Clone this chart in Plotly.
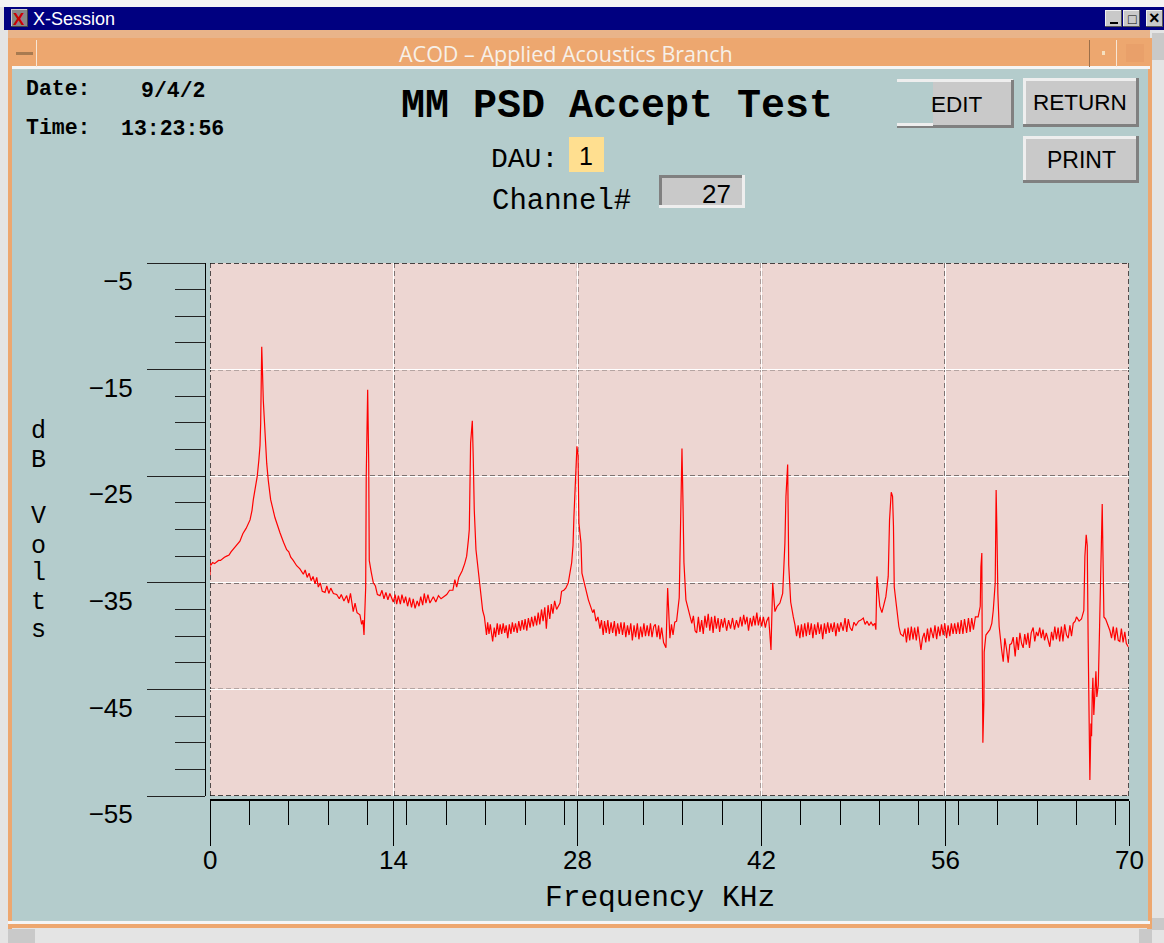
import plotly.graph_objects as go

# ---------- data: (frequency kHz, level dB) ----------
trace_0_12 = [(0,-34.3),(0,-33.2),(0.1,-33.3),(0.2,-33.1),(0.35,-33.2),(0.5,-33.0),(0.65,-32.9),(0.8,-32.9),(0.95,-32.7),(1.1,-32.6),(1.27,-32.5),(1.45,-32.4),(1.6,-32.1),(1.8,-31.8),(2.0,-31.5),(2.28,-31.1),(2.5,-30.4),(2.75,-29.9),(3.05,-29.1),(3.2,-28.2),(3.3,-27.2),(3.45,-26.2),(3.6,-25.0),(3.72,-23.5),(3.81,-22.1),(3.86,-20),(3.94,-12.85),(3.98,-14.4),(4.06,-17.9),(4.19,-21),(4.32,-23.8),(4.44,-25.4),(4.62,-27.2),(4.95,-28.9),(5.15,-29.7),(5.33,-30.3),(5.6,-31.2),(5.84,-31.9),(6.0,-32.1),(6.15,-32.6),(6.34,-32.9),(6.6,-33.4),(6.85,-33.7),(7.11,-34.2),(7.25,-33.8),(7.4,-34.5),(7.55,-34.1),(7.7,-34.8),(7.85,-34.4),(8.0,-35.1),(8.13,-34.5),(8.25,-35.4),(8.4,-35.0),(8.55,-35.8),(8.76,-35.9),(8.9,-35.3),(9.05,-36.0),(9.2,-35.5),(9.4,-36.0),(9.65,-36.1),(9.85,-36.5),(10.0,-36.1),(10.2,-36.7),(10.41,-36.2),(10.55,-36.9),(10.7,-36.0),(10.91,-37.7),(11.05,-36.9),(11.2,-37.8),(11.42,-38),(11.55,-38.9),(11.65,-38.5),(11.73,-39.9),(11.86,-35.4),(11.9,-25),(12.01,-16.9),(12.09,-23.8),(12.13,-32.9)]
trace_12_22 = [(12.28,-34.0),(12.44,-35),(12.6,-35.3),(12.75,-36.1),(12.95,-36.2),(13.1,-35.7),(13.25,-36.5),(13.4,-35.9),(13.55,-36.6),(13.7,-36.0),(13.96,-36.8),(14.1,-36.1),(14.22,-37.0),(14.35,-36.2),(14.5,-37.0),(14.62,-36.1),(14.78,-36.9),(14.9,-36.3),(15.05,-37.2),(15.2,-36.4),(15.35,-37.3),(15.48,-36.5),(15.62,-37.4),(15.78,-36.7),(15.92,-37.2),(16.05,-36.3),(16.2,-37.1),(16.32,-36.0),(16.45,-36.9),(16.6,-36.1),(16.75,-36.9),(17.01,-36.3),(17.2,-36.8),(17.4,-36.2),(17.6,-36.5),(18.03,-36.1),(18.25,-35.7),(18.5,-35.7),(18.65,-34.7),(18.79,-35.4),(18.95,-34.5),(19.2,-33.9),(19.4,-33.2),(19.55,-32.5),(19.68,-31.0),(19.75,-30),(19.85,-21.9),(19.98,-19.8),(20.05,-23.2),(20.13,-28.2),(20.26,-31.9),(20.51,-35),(20.65,-36.5),(20.77,-37.6),(20.9,-38.2),(21.06,-39.9),(21.15,-38.7),(21.25,-39.8),(21.35,-38.9),(21.53,-40.5),(21.65,-39.2),(21.75,-40.1),(21.88,-38.8)]
trace_22_28 = [(22.0,-39.9),(22.1,-38.9),(22.22,-39.8),(22.33,-38.8),(22.45,-39.7),(22.56,-39.0),(22.68,-40.2),(22.8,-38.9),(22.92,-39.8),(23.03,-38.7),(23.15,-39.6),(23.27,-38.8),(23.4,-39.7),(23.52,-38.6),(23.65,-39.5),(23.77,-38.5),(23.9,-39.4),(24.0,-38.4),(24.13,-39.5),(24.25,-38.3),(24.38,-39.2),(24.5,-38.2),(24.63,-39.1),(24.75,-38.1),(24.88,-39.0),(25.0,-37.8),(25.12,-38.9),(25.25,-37.5),(25.37,-38.6),(25.5,-37.3),(25.62,-39.3),(25.75,-37.1),(25.88,-38.4),(26.0,-37.0),(26.12,-37.9),(26.25,-36.7),(26.4,-37.5),(26.66,-36.9),(26.78,-35.8),(26.95,-35.7),(27.1,-35.5),(27.29,-35),(27.45,-34.0),(27.55,-33.1),(27.65,-31.5),(27.72,-28.8),(27.95,-22.2),(28.03,-23),(28.1,-29.4),(28.26,-31.3),(28.33,-34.1),(28.59,-35.4),(28.82,-36.6),(29.15,-37.8),(29.25,-37.5),(29.4,-38.6),(29.55,-38.2),(29.7,-39.3)]
trace_30_37 = [(29.82,-38.5),(29.95,-39.9),(30.05,-38.6),(30.18,-39.7),(30.3,-38.5),(30.42,-39.8),(30.55,-38.7),(30.67,-39.7),(30.8,-38.6),(30.92,-40.0),(31.05,-38.8),(31.17,-39.8),(31.3,-38.7),(31.42,-39.9),(31.55,-38.7),(31.67,-40.1),(31.8,-39.0),(31.92,-39.9),(32.05,-38.8),(32.17,-40.4),(32.3,-39.0),(32.42,-40.1),(32.55,-38.8),(32.67,-40.3),(32.8,-39.1),(32.92,-40.1),(33.05,-38.8),(33.17,-40.0),(33.3,-39.0),(33.42,-40.0),(33.55,-38.8),(33.67,-40.1),(33.8,-39.1),(33.92,-38.9),(34.05,-40.1),(34.17,-39.0),(34.27,-40.3),(34.4,-39.2),(34.55,-40.6),(34.73,-41.1),(34.86,-35.5),(34.93,-37.4),(35.03,-40.2),(35.15,-38.9),(35.27,-39.9),(35.4,-38.7),(35.54,-38.6),(35.74,-36.4),(35.85,-27.9),(35.95,-22.4),(36.02,-27),(36.1,-33.1),(36.25,-36.6),(36.4,-37.4),(36.56,-38.2),(36.7,-38.8),(36.82,-38.1),(36.95,-39.5),(37.07,-39.7)]
trace_37_45 = [(37.2,-38.2),(37.32,-39.6),(37.45,-38.5),(37.57,-39.8),(37.7,-38.1),(37.82,-39.2),(37.95,-37.9),(38.07,-39.5),(38.2,-38.2),(38.32,-39.7),(38.45,-38.1),(38.57,-39.3),(38.7,-38.3),(38.82,-39.6),(38.95,-38.4),(39.07,-39.2),(39.2,-38.3),(39.35,-39.5),(39.5,-38.5),(39.65,-39.3),(39.8,-38.3),(39.95,-39.4),(40.1,-38.5),(40.25,-39.2),(40.4,-38.2),(40.52,-39.1),(40.65,-38.0),(40.77,-38.9),(40.9,-38.2),(41.02,-39.5),(41.15,-38.3),(41.27,-39.1),(41.4,-38.1),(41.52,-39.0),(41.65,-37.8),(41.77,-39.0),(41.9,-38.2),(42.02,-39.1),(42.15,-38.2),(42.3,-39.2),(42.4,-38.6),(42.55,-38.2),(42.73,-41.3),(42.86,-35),(43.03,-37.7),(43.2,-37.2),(43.41,-36.9),(43.62,-36),(43.79,-31.3),(43.87,-26.9),(44.0,-23.9),(44.08,-33.3),(44.23,-36.8),(44.43,-38.2),(44.55,-38.9),(44.68,-40)]
trace_45_52 = [(44.8,-39.0),(44.93,-40.2),(45.05,-38.9),(45.17,-40.1),(45.3,-38.8),(45.42,-40.0),(45.55,-38.7),(45.67,-39.9),(45.8,-38.8),(45.92,-40.2),(46.05,-38.9),(46.17,-39.9),(46.3,-38.7),(46.42,-39.8),(46.55,-38.9),(46.67,-40.3),(46.8,-38.8),(46.92,-39.8),(47.05,-38.7),(47.17,-39.7),(47.3,-38.8),(47.42,-39.6),(47.55,-38.7),(47.67,-40.0),(47.8,-38.8),(47.92,-39.6),(48.05,-38.7),(48.23,-39.5),(48.37,-38.3),(48.5,-39.6),(48.62,-38.4),(48.75,-39.2),(48.9,-39.5),(49.05,-38.7),(49.2,-39.0),(49.4,-38.6),(49.58,-38.5),(49.76,-38.3),(49.9,-38.9),(50.05,-38.6),(50.2,-39.0),(50.35,-38.7),(50.5,-39.0),(50.64,-38.8),(50.72,-39.4),(50.8,-34.4),(50.9,-35.7),(51.02,-37.2),(51.18,-37.8),(51.32,-37.0),(51.48,-36.3),(51.66,-34.4),(51.76,-29.1),(51.89,-26.5),(51.99,-26.9),(52.06,-29.7),(52.12,-35.4),(52.29,-37.2),(52.47,-39.1),(52.6,-39.8),(52.8,-40)]
trace_53_60 = [(52.93,-39.3),(53.05,-40.6),(53.17,-39.2),(53.3,-40.4),(53.42,-39.1),(53.55,-40.3),(53.67,-39.2),(53.8,-40.4),(53.92,-39.1),(54.03,-40.3),(54.15,-41.3),(54.27,-40.2),(54.4,-39.7),(54.52,-40.6),(54.65,-39.3),(54.77,-40.5),(54.9,-39.2),(55.09,-40.2),(55.22,-39.0),(55.35,-40.3),(55.47,-39.1),(55.6,-40.0),(55.72,-38.9),(55.85,-39.9),(55.97,-38.8),(56.1,-40.2),(56.22,-39.0),(56.35,-40.0),(56.47,-38.8),(56.6,-39.8),(56.72,-38.8),(56.85,-39.8),(56.97,-38.7),(57.1,-39.8),(57.22,-38.5),(57.35,-39.8),(57.47,-38.4),(57.63,-39.7),(57.77,-38.3),(57.9,-39.6),(58.02,-38.3),(58.15,-39.4),(58.3,-38.2),(58.51,-38.2),(58.67,-37.2),(58.72,-33.5),(58.79,-32.2),(58.82,-41.1),(58.87,-50),(58.95,-46),(58.97,-41.5),(59.1,-39.9),(59.25,-39.6),(59.4,-39.4),(59.55,-38.8),(59.66,-37.6),(59.81,-35),(59.88,-26.3),(59.94,-30.2),(60.01,-36),(60.11,-39.1),(60.21,-40.5)]
trace_60_67 = [(60.3,-41.3),(60.42,-42.4),(60.54,-40.2),(60.67,-41.2),(60.8,-42.5),(60.92,-40.8),(61.05,-40.7),(61.18,-40.1),(61.33,-41.9),(61.45,-40.1),(61.57,-41.3),(61.69,-39.7),(61.82,-40.7),(61.94,-41.1),(62.06,-39.8),(62.18,-40.8),(62.3,-39.7),(62.42,-41.1),(62.55,-39.7),(62.7,-39.2),(62.82,-40.5),(62.95,-39.6),(63.07,-40.0),(63.2,-39.2),(63.32,-40.2),(63.45,-39.4),(63.57,-40.4),(63.7,-39.7),(63.83,-40.5),(63.97,-41.0),(64.1,-39.6),(64.22,-40.4),(64.35,-39.1),(64.47,-40.3),(64.6,-39.2),(64.72,-40.5),(64.85,-39.1),(64.97,-40.5),(65.1,-38.9),(65.24,-39.9),(65.37,-40.2),(65.5,-39.0),(65.62,-40.0),(65.75,-38.8),(65.9,-38.6),(66.0,-38.2),(66.2,-38.6),(66.38,-38.4),(66.56,-37.6),(66.64,-32.5),(66.74,-30.5),(66.82,-31.5),(66.89,-40.6),(66.94,-48.1),(67.02,-53.5),(67.1,-48.2),(67.15,-49.4),(67.2,-45.5),(67.25,-43.9),(67.32,-47.4),(67.48,-43.3),(67.55,-45.7),(67.66,-44.6),(67.76,-39.1),(67.86,-32.5),(67.96,-27.6),(68.01,-31.8),(68.09,-38.2)]
trace_68_70 = [(68.22,-38.4),(68.42,-39.1),(68.55,-39.5),(68.67,-40.2),(68.8,-39.1),(68.92,-40.4),(69.05,-39.2),(69.18,-40.4),(69.3,-40.5),(69.42,-39.3),(69.55,-40.6),(69.68,-39.6),(69.8,-40.7),(69.94,-41)]

x_major = [0, 14, 28, 42, 56, 70]
x_minor = [0, 3, 6, 9, 12, 15, 18, 21, 24, 27, 30, 33, 36, 39, 42, 45, 48, 51, 54, 57, 60, 63, 66, 69]
y_major = [-5, -15, -25, -35, -45, -55]
y_minor = [-7.5, -10, -12.5, -17.5, -20, -22.5, -27.5, -30, -32.5, -37.5, -40, -42.5, -47.5, -50, -52.5]
y_label_letters = ["d", "B", "V", "o", "l", "t", "s"]
y_label_rows = [431, 460, 516, 546, 573, 602, 630]

W, H = 1164, 943
X = lambda p: p / W
Y = lambda p: 1 - p / H
TEAL, PINK, ORANGE, NAVY, GREY = "#b4cccc", "#edd6d2", "#eda76f", "#000080", "#c9c9c9"
MONO, SANS = "Liberation Mono", "Liberation Sans"

all_points = (trace_0_12 + trace_12_22 + trace_22_28 + trace_30_37 + trace_37_45
              + trace_45_52 + trace_53_60 + trace_60_67 + trace_68_70)
freq = [p[0] for p in all_points]
level = [p[1] for p in all_points]

shapes, notes = [], []

def box(x0, y0, x1, y1, fill):
    shapes.append(dict(type="rect", xref="paper", yref="paper", x0=X(x0), x1=X(x1), y0=Y(y0), y1=Y(y1),
                       fillcolor=fill, line=dict(width=0), layer="below"))

def raised(x0, y0, x1, y1, fill=GREY, tl="#eeeeee", br="#808080", b=3):
    box(x0, y0, x1, y1, br)
    box(x0, y0, x1 - b, y1 - b, tl)
    box(x0 + b, y0 + b, x1 - b, y1 - b, fill)

def text(x, y, s, size, family=MONO, color="black", anchor="left"):
    notes.append(dict(x=X(x), y=Y(y), xref="paper", yref="paper", text=s, showarrow=False, xanchor=anchor,
                      yanchor="middle", font=dict(family=family, size=size, color=color), borderpad=0))

# window chrome
box(0, 0, 1164, 943, "#e4e4e4")
box(0, 0, 1164, 7, "#f4f4f4")
box(4, 7, 1164, 30, NAVY)
box(8, 30, 1150, 38, "#e9b48a")
box(8, 38, 1152, 69, ORANGE)
box(12, 66, 1150, 69, "#f5f5f5")
box(8, 69, 12, 930, ORANGE)
box(1147, 69, 1152, 930, ORANGE)
box(12, 69, 1148, 921, TEAL)
box(210, 263, 1129, 796, PINK)
box(8, 921, 1150, 924, "#f5f5f5")
box(8, 924, 1150, 928, ORANGE)
box(36, 40, 37, 67, "#f7e6d6")
box(1089, 40, 1090, 67, "#9c6f49")
box(1116, 40, 1117, 67, "#f7e6d6")
box(16, 52, 33, 55, "#a87a50")
box(1126, 44, 1144, 62, "#e9a06a")
box(1102, 51, 1105, 55, "#f5e0c0")
# title bar icons
raised(11, 9, 28, 27, "#888888", "#cccccc", "#444444", 1)
raised(1105, 10, 1122, 27, "#c9c9c9", "#eeeeee", "#555555", 1)
raised(1123, 10, 1140, 27, "#c9c9c9", "#eeeeee", "#555555", 1)
raised(1146, 10, 1163, 27, "#c9c9c9", "#eeeeee", "#555555", 1)
box(1110, 22, 1118, 24, "black")
box(1127, 14, 1137, 24, "#c9c9c9")
# scrollbars
box(1152, 33, 1164, 60, "#c9c9c9")
box(1152, 918, 1164, 930, "#c9c9c9")
box(8, 929, 35, 943, "#c9c9c9")
box(1139, 929, 1152, 943, "#c9c9c9")

# controls
box(897, 79, 1013, 82, "#eeeeee")
box(933, 82, 1011, 125, GREY)
box(1011, 80, 1014, 128, "#808080")
box(897, 125, 1014, 128, "#808080")
box(897, 123, 933, 126, "#eeeeee")
raised(1023, 78, 1139, 127)
raised(1023, 136, 1139, 183)
raised(659, 175, 745, 208, GREY, "#808080", "#eeeeee", 3)
box(569, 137, 604, 172, "#ffdf90")

text(25, 89, "<b>Date:</b>", 21.5)
text(140, 91, "<b>9/4/2</b>", 21.5)
text(25, 128, "<b>Time:</b>", 21.5)
text(120, 129, "<b>13:23:56</b>", 21.5)
text(400, 107, "<b>MM PSD Accept Test</b>", 40)
text(490, 159, "DAU:", 28)
text(586, 156, "1", 25, SANS, anchor="center")
text(491, 201, "Channel#", 29)
text(732, 194, "27", 26, SANS, anchor="right")
text(957, 104, "EDIT", 22.5, SANS, anchor="center")
text(1080, 103, "RETURN", 22.5, SANS, anchor="center")
text(1081, 160, "PRINT", 23, SANS, anchor="center")
text(32, 19, "X-Session", 18, SANS, "white")
text(566, 53, "ACOD – Applied Acoustics Branch", 21.5, "Open Sans", "#f7f0e8", "center")
text(19, 19, "<b>X</b>", 17, SANS, "#cc0000", "center")
text(1132, 19, "□", 14, SANS, "black", "center")
text(1154, 18, "<b>×</b>", 18, SANS, "black", "center")
text(660, 898, "Frequency KHz", 29.5, anchor="center")
for letter, row in zip(y_label_letters, y_label_rows):
    text(38, row, letter, 25, anchor="center")
for v in x_major:
    notes.append(dict(x=v, y=Y(860), xref="x", yref="paper", text=str(v), showarrow=False, xanchor="center",
                      yanchor="middle", font=dict(family=SANS, size=26, color="black")))

# dark dashes over the white native grid
for v in x_major:
    shapes.append(dict(type="line", xref="x", yref="y", x0=v, x1=v, y0=-55, y1=-5, layer="below",
                       line=dict(color="#111111", width=1.4, dash="5px,3px")))
for v in y_major:
    shapes.append(dict(type="line", xref="x", yref="y", x0=0, x1=70, y0=v, y1=v, layer="below",
                       line=dict(color="#111111", width=1.4, dash="5px,3px")))

fig = go.Figure(go.Scatter(x=freq, y=level, mode="lines", line=dict(color="#ff0000", width=1.2), showlegend=False,
                           cliponaxis=True))
fig.update_layout(
    width=W, height=H, autosize=False, margin=dict(l=0, r=0, t=0, b=0),
    paper_bgcolor=TEAL, plot_bgcolor=PINK, showlegend=False,
    shapes=shapes, annotations=notes,
    xaxis=dict(domain=[X(210), X(1129)], range=[0, 70], anchor="free", position=Y(800), automargin=False,
               tickmode="array", tickvals=x_major, ticks="outside", ticklen=45, tickcolor="black", tickwidth=1,
               showline=True, linecolor="black", linewidth=1.5, showgrid=True, gridcolor="white", gridwidth=1,
               zeroline=False, showticklabels=False,
               minor=dict(tickmode="array", tickvals=x_minor, ticks="outside", ticklen=24, tickcolor="black",
                          tickwidth=1, showgrid=False)),
    yaxis=dict(domain=[Y(796), Y(263)], range=[-55, -5], anchor="free", position=X(205), automargin=False,
               tickmode="array", tickvals=y_major, ticks="outside", ticklen=58, tickcolor="#222222", tickwidth=1,
               showline=True, linecolor="black", linewidth=1, showgrid=True, gridcolor="white", gridwidth=1,
               zeroline=False, ticklabelstandoff=9, ticklabelshift=18,
               tickfont=dict(family=SANS, size=26, color="black"),
               minor=dict(tickmode="array", tickvals=y_minor, ticks="outside", ticklen=30, tickcolor="#222222",
                          tickwidth=1, showgrid=False)),
)
fig.write_html("out.html", post_script="document.body.style.margin='0';document.documentElement.style.overflow='hidden';",
               config=dict(displayModeBar=False))
